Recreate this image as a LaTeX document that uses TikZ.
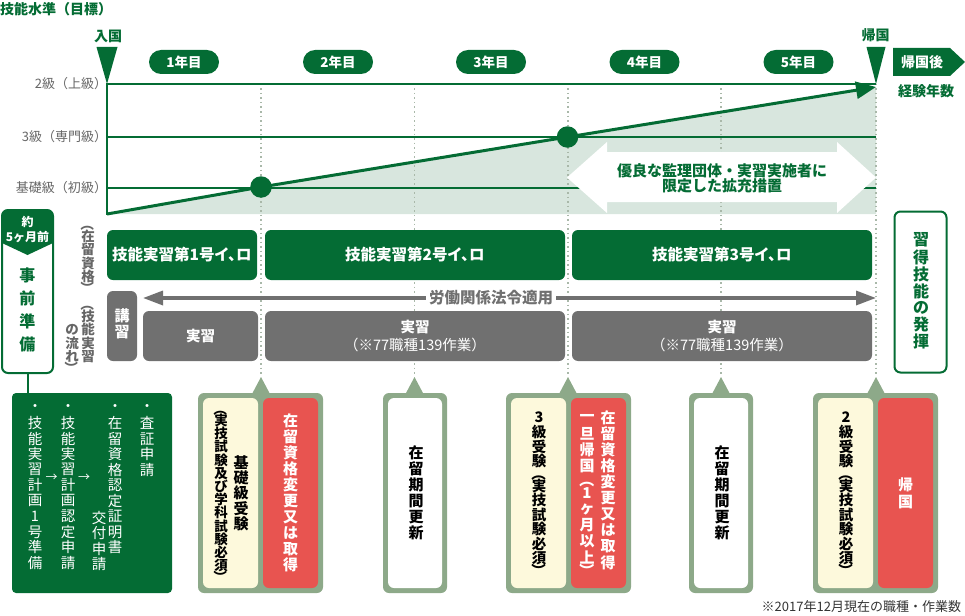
\documentclass[tikz,border=0pt]{standalone}
\usepackage{fontspec}
\usepackage{graphicx}
\setmainfont{Noto Sans CJK JP}
\usetikzlibrary{arrows.meta}
\XeTeXuseglyphmetrics=1
\definecolor{grn}{HTML}{046C34}
\definecolor{shadeg}{HTML}{D8E6DE}
\definecolor{lbl}{HTML}{666666}
\definecolor{gbox}{HTML}{707070}
\definecolor{sage}{HTML}{8DA989}
\definecolor{cream}{HTML}{FDF9DC}
\definecolor{redb}{HTML}{E85450}
\definecolor{dotc}{HTML}{A9B8A9}
\newcommand\fsz[1]{\fontsize{#1}{#1}\selectfont}
\ExplSyntaxOn
\dim_new:N \l_vt_pitch_dim
\cs_new_protected:Npn \vt_box:nn #1#2 { \vbox_to_ht:nn {#1}{\vss \hbox_to_wd:nn {1em}{\hss #2 \hss} \vss} }
\NewDocumentCommand \vtext { O{1.07} m }
  {
    \vbox:n
      {
        \dim_set:Nn \l_vt_pitch_dim { #1 em }
        \offinterlineskip
        \tl_map_inline:nn {#2}
          {
            \str_case:nnF {##1}
              {
                {（} { \vt_box:nn { 0.7\l_vt_pitch_dim } { \rotatebox[origin=c]{-90}{（} } }
                {）} { \vt_box:nn { 0.7\l_vt_pitch_dim } { \rotatebox[origin=c]{-90}{）} } }
              }
              { \vt_box:nn { \l_vt_pitch_dim } {##1} }
          }
      }
  }
\ExplSyntaxOff
\tikzset{
  pill/.style={fill=grn, rounded corners=12pt, minimum width=70pt, minimum height=24pt, text=white, font=\bfseries\fsz{13.5pt}},
  gbx/.style={fill=grn, rounded corners=6pt, text=white, font=\bfseries\fsz{15.5pt}\addfontfeatures{RawFeature=+palt}, minimum height=50pt},
  graybx/.style={fill=gbox, rounded corners=6pt, text=white},
  frame/.style={fill=sage, rounded corners=6pt, minimum height=200pt},
  inner/.style={rounded corners=6pt, minimum width=55pt, minimum height=190pt},
  axlbl/.style={anchor=east, text=lbl, font=\fsz{13pt}},
  gline/.style={grn, line width=2.6pt},
  dotl/.style={dotc, line width=1.3pt, dash pattern=on 1.5pt off 3pt},
  vlist/.style={text=white, font=\fsz{14.5pt}},
  ctext/.style={font=\bfseries\fsz{15pt}},
}
\begin{document}
\begin{tikzpicture}[x=1pt,y=-1pt, every node/.style={inner sep=0pt, outer sep=0pt}]
\useasboundingbox (0,0) rectangle (965,615);
% ---- chart shading
\coordinate (g0) at (107,214);
\coordinate (g1) at (261,187);
\coordinate (g2) at (567.5,137);
\coordinate (g3) at (876,87);
\fill[shadeg] (g0) -- (g1) -- (g2) -- (g3) -- (876,214) -- cycle;
% ---- dotted verticals
\foreach \x in {261,414.5,568,721,876} {
  \draw[dotl] (\x,84) -- (\x,376);
  \fill[sage] (\x-9,394) -- (\x,377) -- (\x+9,394) -- cycle;
}
% ---- axis and level lines
\draw[gline] (107,83) -- (107,215);
\draw[gline] (107,84) -- (876,84);
\draw[gline] (107,137) -- (876,137);
\draw[gline] (107,188) -- (876,188);
\node[axlbl] (l2) at (107,84) {2級（上級）};
\node[axlbl] (l3) at (107,137) {3級（専門級）};
\node[axlbl] (l1) at (107,188) {基礎級（初級）};
% ---- white expansion arrow
\fill[white] (567,177.5) -- (607,142) -- (607,152) -- (837,152) -- (837,142) -- (876,177.5)
  -- (837,213) -- (837,202) -- (607,202) -- (607,213) -- cycle;
\node[text=grn, font=\bfseries\fsz{15pt}, align=center] (exp) at (722,178)
  {\fontsize{15pt}{20pt}\selectfont 優良な監理団体・実習実施者に\\限定した拡充措置};
% ---- growth line
\draw[grn, line width=3pt, -{Triangle[length=20pt,width=17pt]}] (g0) -- (g1) -- (g2) -- (g3);
\node[circle, fill=grn, minimum size=21.5pt] (dot1) at (g1) {};
\node[circle, fill=grn, minimum size=21.5pt] (dot2) at (g2) {};
% ---- header
\node[anchor=west, text=grn, font=\bfseries\fsz{14pt}] (title) at (0,9) {技能水準（目標）};
\node[text=grn, font=\bfseries\fsz{14pt}] (entry) at (108,36) {入国};
\fill[grn] (96.5,47) -- (117.5,47) -- (107,84) -- cycle;
\node[text=grn, font=\bfseries\fsz{14pt}] (ret) at (875.5,35) {帰国};
\fill[grn] (866.5,47) -- (885.5,47) -- (876,84) -- cycle;
\node[pill] (y1) at (184,62) {1年目};
\node[pill] (y2) at (338,62) {2年目};
\node[pill] (y3) at (491,62) {3年目};
\node[pill] (y4) at (644.5,62) {4年目};
\node[pill] (y5) at (798.5,62) {5年目};
\fill[grn] (893,48) -- (950,48) -- (965,62) -- (950,76) -- (893,76) -- cycle;
\node[text=white, font=\bfseries\fsz{14pt}] (after) at (922,62) {帰国後};
\node[text=grn, font=\bfseries\fsz{14pt}] (years) at (926,91) {経験年数};
% ---- status rows
\node[text=lbl, font=\bfseries\fsz{13.5pt}, anchor=north] (lstat) at (88,220) {\vtext[1.0]{（在留資格）}};
\node[text=lbl, font=\bfseries\fsz{13.5pt}, anchor=north] (lflow1) at (88,300) {\vtext[1.0]{（技能実習}};
\node[text=lbl, font=\bfseries\fsz{13.5pt}, anchor=north] (lflow2) at (72,323) {\vtext[1.0]{の流れ）}};
\node[gbx, minimum width=150pt] (s1) at (182,255) {技能実習第1号イ、ロ};
\node[gbx, minimum width=300pt] (s2) at (415,255) {技能実習第2号イ、ロ};
\node[gbx, minimum width=300pt] (s3) at (722,255) {技能実習第3号イ、ロ};
\node[graybx, minimum width=30pt, minimum height=70pt] (kosh) at (122,326) {};
\node[text=white, font=\bfseries\fsz{15pt}] (koshT) at (122,324) {\vtext[1.12]{講習}};
\node[graybx, minimum width=115pt, minimum height=50pt, font=\bfseries\fsz{14.5pt}] (j1) at (200.5,336) {実習};
\node[graybx, minimum width=300pt, minimum height=50pt, align=center] (j2) at (415,336)
  {{\bfseries\fsz{14.5pt}実習}\\[3pt]{\fsz{14.5pt}（※77職種139作業）}};
\node[graybx, minimum width=300pt, minimum height=50pt, align=center] (j3) at (722,336)
  {{\bfseries\fsz{14.5pt}実習}\\[3pt]{\fsz{14.5pt}（※77職種139作業）}};
\coordinate (lawL) at (143,298);
\coordinate (lawR) at (876,298);
\draw[gbox, line width=3.3pt, {Triangle[length=20pt,width=14pt]}-{Triangle[length=20pt,width=14pt]}] (lawL) -- (lawR);
\node[fill=white, inner xsep=3pt, inner ysep=1pt, text=gbox, font=\bfseries\fsz{15.5pt}] (law) at (491,298) {労働関係法令適用};
% ---- right box
\node[draw=grn, line width=2pt, fill=white, rounded corners=6pt, minimum width=52pt, minimum height=161pt] (skill) at (920.5,292) {};
\node[text=grn, font=\bfseries\fsz{16pt}] (skillT) at (921,291) {\vtext[1.06]{習得技能の発揮}};
% ---- preparation box
\begin{scope}
  \clip[rounded corners=6pt] (2,210) rectangle (53,373);
  \fill[grn] (2,210) -- (53,210) -- (53,243) -- (27.5,255) -- (2,243) -- cycle;
\end{scope}
\node[draw=grn, line width=2pt, rounded corners=6pt, minimum width=51pt, minimum height=163pt] (prep) at (27.5,291.5) {};
\node[text=white, font=\bfseries\fsz{12pt}] (prepA) at (27.5,222) {約};
\node[text=white, font=\bfseries\fsz{12pt}] (prepB) at (27.5,237) {5ヶ月前};
\node[text=grn, font=\bfseries\fsz{16pt}] (prepT) at (27.5,310) {\vtext[1.45]{事前準備}};
\node[fill=grn, rounded corners=4pt, minimum width=160pt, minimum height=200pt] (plan) at (92,493) {};
\draw[grn, line width=2pt] (prep.south) -- (prep.south |- plan.north);
\node[vlist, anchor=north] (pc1) at (35,400) {\vtext{・技能実習計画1号準備}};
\node[vlist, anchor=north] (pc2) at (68,400) {\vtext{・技能実習計画認定申請}};
\node[vlist, anchor=north] (pc3) at (115,400) {\vtext{・在留資格認定証明書}};
\node[vlist, anchor=south] (pc3b) at (99,572) {\vtext{交付申請}};
\node[vlist, anchor=north] (pc4) at (147,400) {\vtext{・査証申請}};
\node[text=white, font=\fsz{12pt}] (ar1) at (51.5,478) {→};
\node[text=white, font=\fsz{12pt}] (ar2) at (84,478) {→};
% ---- callouts
\node[frame, minimum width=125pt] (c1) at (260.5,493) {};
\node[inner, fill=cream] (c1a) at (230.5,493) {};
\node[inner, fill=redb] (c1b) at (290.5,493) {};
\node[ctext] (c1t1) at (241,493) {\vtext[1.03]{基礎級受験}};
\node[font=\bfseries\fsz{13.5pt}] (c1t2) at (221,493) {\vtext[0.98]{（実技試験及び学科試験必須）}};
\node[ctext, text=white] (c1t3) at (290.5,493) {\vtext{在留資格変更又は取得}};

\node[frame, minimum width=64pt] (c2) at (415,493) {};
\node[inner, fill=white, minimum width=54pt] (c2a) at (415,493) {};
\node[ctext] (c2t) at (416,493) {\vtext{在留期間更新}};

\node[frame, minimum width=125pt] (c3) at (568.5,493) {};
\node[inner, fill=cream] (c3a) at (538.5,493) {};
\node[inner, fill=redb] (c3b) at (598.5,493) {};
\node[font=\bfseries\fsz{14.5pt}] (c3t1) at (539,493) {\vtext[1.0]{3級受験（実技試験必須）}};
\node[ctext, text=white, anchor=north] (c3t2) at (608,410) {\vtext{在留資格変更又は取得}};
\node[ctext, text=white, anchor=north] (c3t3) at (587,410) {\vtext{一旦帰国（1ヶ月以上）}};

\node[frame, minimum width=64pt] (c4) at (721,493) {};
\node[inner, fill=white, minimum width=54pt] (c4a) at (721,493) {};
\node[ctext] (c4t) at (722,493) {\vtext{在留期間更新}};

\node[frame, minimum width=125pt] (c5) at (875.5,493) {};
\node[inner, fill=cream] (c5a) at (845.5,493) {};
\node[inner, fill=redb] (c5b) at (905.5,493) {};
\node[font=\bfseries\fsz{14.5pt}] (c5t1) at (846,493) {\vtext[1.0]{2級受験（実技試験必須）}};
\node[ctext, text=white] (c5t2) at (905.5,493) {\vtext[1.15]{帰国}};
% ---- footnote
\node[anchor=east, text=black!80, font=\fsz{13pt}] (note) at (961,607) {※2017年12月現在の職種・作業数};
\end{tikzpicture}
\end{document}
